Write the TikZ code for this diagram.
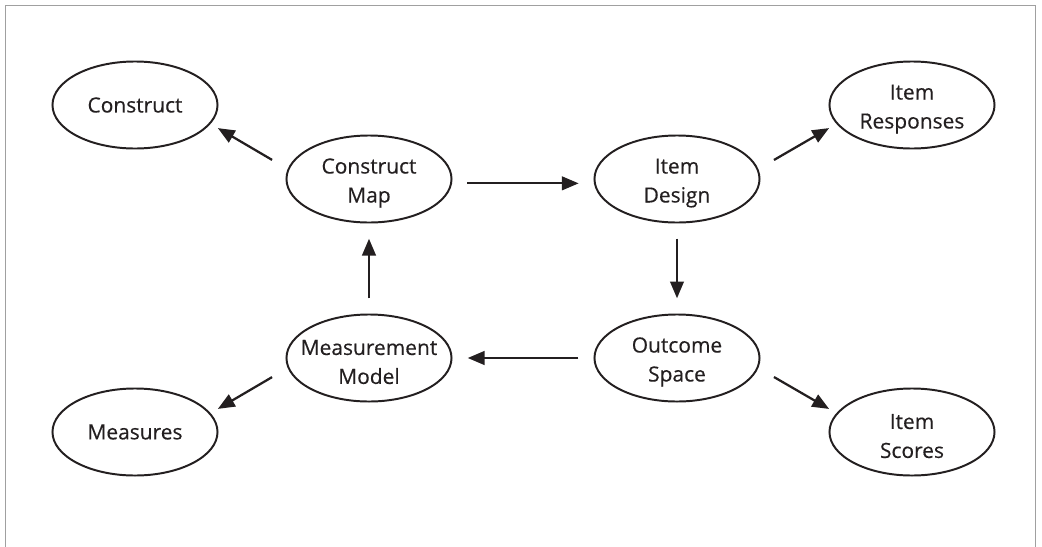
\documentclass[tikz,border=0pt]{standalone}
\usepackage{fontspec}
\setmainfont{Open Sans}[FakeBold=0.4]
\usetikzlibrary{shapes.geometric,arrows.meta}
\definecolor{inkgray}{RGB}{35,31,32}
\definecolor{framegray}{RGB}{160,160,160}
\tikzset{
  bubble/.style={
    ellipse,
    draw=inkgray,
    line width=1.4pt,
    text=inkgray,
    minimum width=4.125cm,
    minimum height=2.175cm,
    inner xsep=-12pt,
    inner ysep=0pt,
    align=center,
    font=\fontsize{14.9}{20.6}\selectfont
  },
  twoline/.style={bubble, text height=37pt},
  link/.style={
    draw=inkgray,
    line width=1.6pt,
    -{Triangle[length=4.2mm,width=3.4mm]},
    shorten <=0.38cm,
    shorten >=0.38cm
  },
  side-link/.style={link, shorten <=0.45cm, shorten >=0.21cm},
  pageline/.style={draw=framegray, line width=1.4pt}
}
\newcommand{\pageframe}{
  \useasboundingbox (0,0) rectangle (1042,547);
  \draw[pageline] (5.5,547) -- (5.5,5.5) -- (1035.5,5.5) -- (1035.5,547);
}

\begin{document}
\begin{tikzpicture}[x=0.025cm, y=-0.025cm]
  \pageframe
  % the four stages of the cycle
  \node[twoline] (cmap)    at (369,179) {Construct\\Map};
  \node[twoline] (idesign) at (677,179) {Item\\Design};
  \node[twoline] (ospace)  at (677,358) {Outcome\\Space};
  \node[twoline] (mmodel)  at (369,358) {Measurement\\Model};
  % what each stage leads out to
  \node[bubble]  (construct) at (135,105) {Construct};
  \node[twoline] (iresp)     at (912,105) {Item\\Responses};
  \node[bubble]  (measures)  at (135,432) {Measures};
  \node[twoline] (iscores)   at (912,432) {Item\\Scores};

  \draw[link] (cmap.-3) -- (idesign.183);
  \draw[link] (idesign.south) -- (ospace.north);
  \draw[link] (ospace.west) -- (mmodel.east);
  \draw[link] (mmodel.north) -- (cmap.south);

  \draw[side-link] (cmap.173) -- (construct.-14);
  \draw[side-link] (idesign.7) -- (iresp.194);
  \draw[side-link] (mmodel.187) -- (measures.14);
  \draw[side-link] (ospace.-7) -- (iscores.166);
\end{tikzpicture}
\end{document}
